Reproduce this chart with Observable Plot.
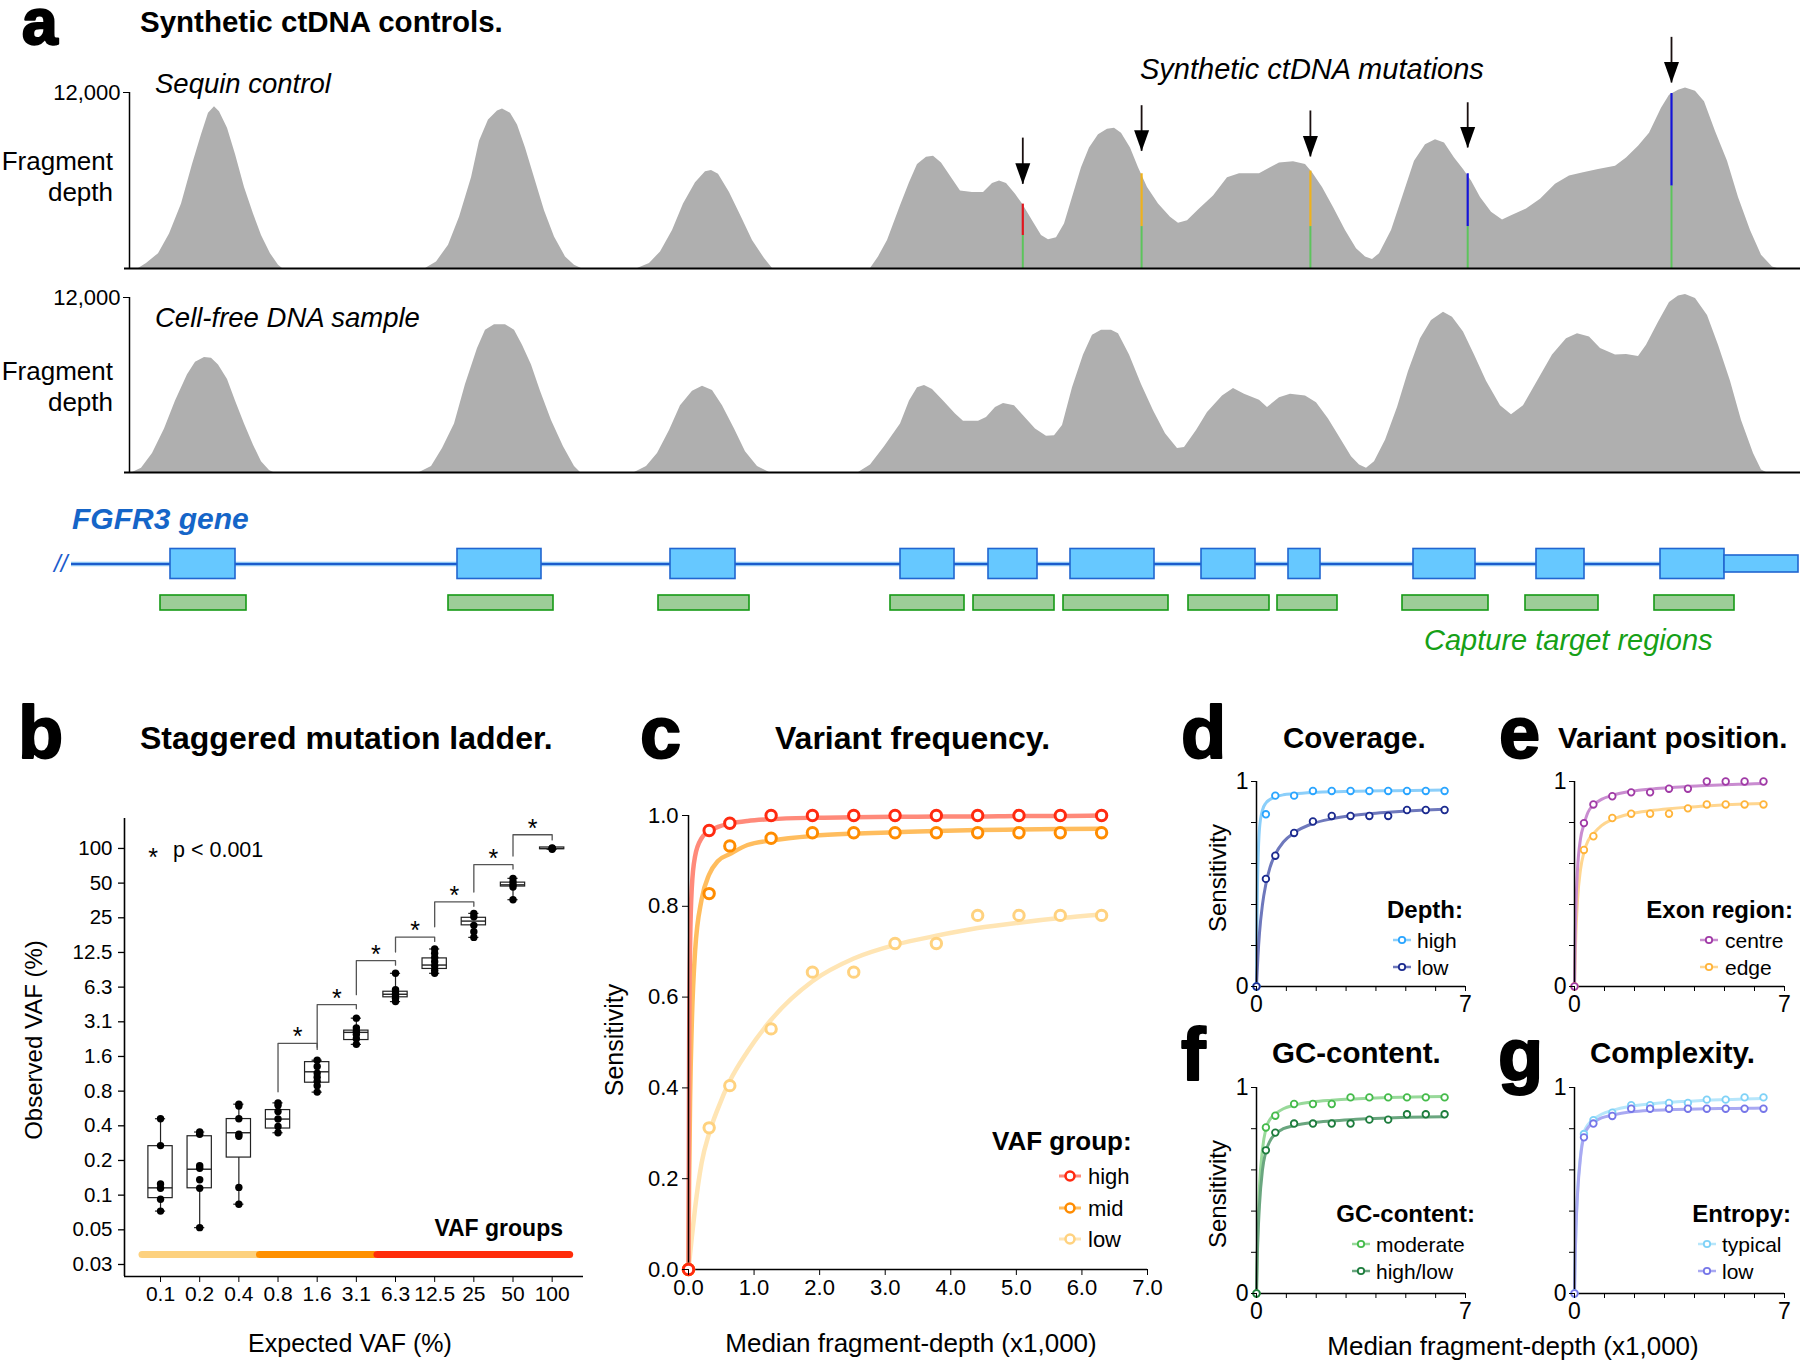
<!DOCTYPE html>
<html>
<head>
<meta charset="utf-8">
<script src="https://cdn.jsdelivr.net/npm/d3@7"></script>
<script src="https://cdn.jsdelivr.net/npm/@observablehq/plot@0.6"></script>
<style>
html,body{margin:0;padding:0;background:#fff;}
#fig{position:relative;width:1800px;height:1362px;overflow:hidden;background:#fff;}
</style>
</head>
<body>
<div id="fig"></div>
<script>
// ================= DATA =================
// Panel a: fragment depth along FGFR3 (position in bp, depth)
const sequinCoverage = [
 [90,0],[170,340],[290,1010],[400,2360],[520,4390],[630,7090],[720,9120],[790,10580],[850,11030],[900,10690],[980,9570],[1060,7770],[1150,5520],[1240,3710],[1320,2250],[1410,1010],[1490,230],[1530,0],
 [2960,0],[3070,450],[3190,1580],[3300,3490],[3420,6190],[3500,8670],[3590,10130],[3680,10740],[3730,10870],[3810,10580],[3880,9790],[3960,8220],[4050,6190],[4150,3940],[4250,2140],[4360,790],[4450,230],[4520,0],
 [5080,0],[5200,340],[5310,1130],[5430,2590],[5540,4390],[5660,5850],[5760,6600],[5820,6690],[5890,6420],[6000,5180],[6120,3490],[6230,1910],[6350,680],[6430,0],
 [7410,0],[7490,790],[7580,1910],
 [7710,4280],[7800,5850],[7880,7090],[7970,7590],[8040,7650],[8120,7200],[8230,6080],[8310,5290],[8430,5180],[8540,5180],
 [8630,5790],[8700,5970],[8770,5790],[8860,5060],[8930,4390],[9030,3260],[9120,2250],[9190,1960],[9270,2090],[9350,3040],
 [9430,4840],[9520,6870],[9600,8220],[9690,9120],[9780,9500],[9850,9570],[9920,9230],[10010,8220],[10090,6870],[10180,5520],
 [10290,4390],[10410,3490],[10490,3080],[10580,3260],[10700,4050],[10840,4950],[10980,6190],[11100,6460],[11300,6460],[11410,6870],
 [11500,7200],[11640,7270],[11760,7090],[11830,6530],[11930,5520],[12040,4160],[12160,2590],[12270,1350],[12360,790],[12430,610],
 [12500,1010],[12620,2590],[12730,4840],[12850,7320],[12960,8440],[13060,8780],[13150,8550],[13250,7540],[13340,6750],[13420,5970],
 [13510,4840],[13620,3830],[13730,3310],[13820,3600],[13970,4050],[14110,4730],[14260,5740],[14400,6300],[14540,6530],[14690,6750],
 [14860,6980],[14970,7540],[15090,8330],[15200,9230],[15320,10920],[15400,11820],[15490,12160],[15560,12310],[15660,12090],[15750,11370],
 [15860,9340],[15980,7320],[16090,4840],[16210,2590],[16320,900],[16430,110],[16480,0]
];
const cfdnaCoverage = [
 [30,0],[120,290],[230,1310],[350,2990],[460,4910],[580,6710],[660,7560],[750,7880],[820,7830],[890,7380],[980,6370],[1060,4910],[1150,3330],[1240,1870],[1320,740],[1400,140],[1440,0],
 [2900,0],[3020,410],[3130,1640],[3250,3330],[3360,6030],[3480,8510],[3560,9750],[3650,10130],[3760,10130],[3850,9750],[3930,8730],[4020,7380],[4110,5580],[4220,3560],[4340,1760],[4450,410],[4510,0],
 [5050,0],[5170,410],[5280,1310],[5400,2880],[5510,4570],[5630,5580],[5730,5920],[5830,5630],[5930,4570],[6050,2990],[6160,1420],[6280,410],[6400,0],
 [7290,0],[7410,520],[7550,1760],
 [7710,3330],[7800,4910],[7880,5810],[7950,5970],[8030,5700],[8140,4910],[8260,4010],[8340,3510],[8490,3510],[8570,3780],
 [8660,4460],[8740,4730],[8850,4570],[8940,3890],[9060,2990],[9170,2480],[9250,2520],[9330,3220],[9430,5810],[9540,8060],
 [9630,9410],[9720,9750],[9820,9750],[9890,9520],[10000,8060],[10120,6030],[10240,4230],[10360,2660],[10480,1640],[10550,1710],
 [10670,2880],[10780,4120],[10930,5250],[11040,5760],[11150,5360],[11300,4950],[11380,4460],[11500,5130],[11610,5360],[11760,5250],
 [11870,4790],[11990,3670],[12100,2430],[12220,1080],[12300,520],[12370,290],[12450,740],[12560,2210],[12680,4460],[12790,6930],
 [12910,9180],[13020,10420],[13140,10990],[13230,10650],[13340,9630],[13450,8060],[13570,6260],[13710,4570],[13820,3960],[13940,4570],
 [14080,6260],[14230,8060],[14370,9180],[14480,9520],[14600,9300],[14710,8510],[14860,8060],[14970,8100],[15090,7950],[15170,8730],
 [15290,10310],[15400,11660],[15490,12110],[15560,12200],[15660,11930],[15780,10760],[15890,8730],[16010,6260],[16120,3560],[16240,1310],
 [16320,180],[16370,0]
];
// synthetic ctDNA mutations in the sequin control
const mutPos = [8933, 10121, 11809, 13382, 15420];
const mutDepth = [4390, 6460, 6640, 6460, 11930];
const mutRefDepth = [2250, 2860, 2860, 2860, 5630];
const mutAltBase = ["T", "G", "G", "C", "C"];
const arrowTip = [5740, 7990, 7610, 8220, 12650];
const arrowTop = [8890, 11100, 10740, 11300, 15760];
// FGFR3 gene model and capture targets (bp)
const exonStart = [410, 3280, 5410, 7710, 8590, 9410, 10720, 11590, 12840, 14070, 15310];
const exonEnd   = [1060, 4120, 6060, 8250, 9080, 10250, 11260, 11910, 13460, 14550, 15950];
const utrStart = [15950];
const utrEnd = [16690];
const targetStart = [310, 3190, 5290, 7610, 8440, 9340, 10590, 11480, 12730, 13960, 15250];
const targetEnd   = [1170, 4240, 6200, 8350, 9250, 10390, 11400, 12080, 13590, 14690, 16050];
const geneLine = [-580, 16690];

// Panel b: staggered mutation ladder
const expectedVAF = ["0.1","0.2","0.4","0.8","1.6","3.1","6.3","12.5","25","50","100"];
const observedVAF = [
 [0.45,0.263,0.122,0.112,0.090,0.071],
 [0.345,0.33,0.176,0.167,0.133,0.112,0.051],
 [0.602,0.581,0.45,0.33,0.317,0.114,0.0815],
 [0.618,0.59,0.52,0.447,0.386,0.34],
 [1.45,1.28,1.12,1.03,0.95,0.87,0.766],
 [3.36,2.76,2.58,2.43,2.23,1.99],
 [8.24,5.95,5.7,5.46,5.23,5.01,4.68],
 [13.4,12.3,11.3,10.4,9.55,8.77,8.24],
 [27.3,25.5,21.5,18.9,16.9],
 [55,51.3,48.3,46.3,35.9],
 [101,100,98.3]
];
const boxQ1     = [0.092,0.112,0.207,0.37,0.925,2.17,5.1,8.99,21.5,46.7,98.5];
const boxMedian = [0.113,0.164,0.34,0.447,1.15,2.53,5.42,9.72,23.4,48.3,100];
const boxQ3     = [0.26,0.317,0.447,0.535,1.395,2.62,5.7,11.1,25.0,50.5,102];
const vafTicks = [100,50,25,12.5,6.25,3.125,1.5625,0.78125,0.390625,0.1953125,0.09765625,0.048828125,0.0244140625];
const vafTickLabels = ["100","50","25","12.5","6.3","3.1","1.6","0.8","0.4","0.2","0.1","0.05","0.03"];
const vafGroupNames = ["low","mid","high"];
const vafGroupFirst = [0,3,6];
const vafGroupLast = [2,5,10];
const bracketFrom = [3,4,5,6,7,8,9];
const bracketTop = [2.03,4.41,10.6,17.0,34.3,72.3,131.5];
const bracketLeftFoot = [0.77,1.88,5.37,12.6,20.9,41.8,85.8];
const bracketRightFoot = [1.8,4.05,9.7,15.6,31.5,66.3,118.6];

// Panels c-g: sensitivity vs median fragment depth (x1,000)
const depthK = [0,0.315,0.63,1.26,1.89,2.52,3.15,3.78,4.41,5.04,5.67,6.3];
const fitDepthK = [0,0.01,0.025,0.05,0.1,0.2,0.315,0.45,0.63,0.9,1.26,1.89,2.52,3.15,3.78,4.41,5.04,5.67,6.3];
const sensHighVAF = [0,0.967,0.983,1,1,1,1,1,1,1,1,1];
const sensMidVAF  = [0,0.828,0.933,0.95,0.962,0.962,0.962,0.962,0.962,0.962,0.962,0.962];
const sensLowVAF  = [0,0.312,0.405,0.53,0.655,0.655,0.718,0.718,0.78,0.78,0.78,0.78];
const fitHighVAF = [0,0.5,0.72,0.84,0.91,0.95,0.965,0.975,0.982,0.988,0.992,0.995,0.996,0.997,0.998,0.998,0.999,0.999,1.0];
const fitMidVAF  = [0,0.2,0.38,0.54,0.7,0.815,0.87,0.9,0.915,0.935,0.945,0.955,0.96,0.963,0.966,0.968,0.969,0.97,0.971];
const fitLowVAF  = [0,0.014,0.035,0.07,0.135,0.235,0.3,0.355,0.415,0.48,0.55,0.635,0.685,0.715,0.735,0.752,0.764,0.774,0.782];
const sensDepthHigh = [0,0.84,0.931,0.931,0.954,0.954,0.954,0.954,0.954,0.954,0.954,0.954];
const sensDepthLow  = [0,0.525,0.638,0.749,0.805,0.832,0.832,0.832,0.832,0.861,0.861,0.861];
const fitDepthHigh = [0,0.2,0.42,0.6,0.77,0.86,0.895,0.912,0.925,0.935,0.94,0.946,0.95,0.952,0.954,0.955,0.956,0.957,0.958];
const fitDepthLow  = [0,0.035,0.08,0.15,0.26,0.4,0.5,0.58,0.645,0.705,0.75,0.795,0.818,0.833,0.843,0.85,0.856,0.861,0.865];
const sensCentre = [0,0.797,0.888,0.928,0.947,0.947,0.965,0.965,1,1,1,1];
const sensEdge   = [0,0.666,0.733,0.822,0.843,0.843,0.843,0.869,0.888,0.888,0.888,0.888];
const fitCentre = [0,0.1,0.25,0.4,0.57,0.72,0.79,0.85,0.885,0.913,0.932,0.952,0.963,0.97,0.976,0.98,0.984,0.987,0.99];
const fitEdge   = [0,0.06,0.15,0.27,0.42,0.57,0.655,0.71,0.745,0.785,0.815,0.843,0.857,0.867,0.875,0.881,0.886,0.89,0.893];
const sensModerate = [0,0.806,0.863,0.92,0.92,0.92,0.952,0.952,0.952,0.952,0.952,0.952];
const sensHighLow  = [0,0.695,0.781,0.825,0.825,0.825,0.825,0.844,0.844,0.87,0.87,0.87];
const fitModerate = [0,0.08,0.2,0.33,0.52,0.7,0.8,0.845,0.872,0.897,0.914,0.93,0.938,0.944,0.948,0.951,0.953,0.955,0.956];
const fitHighLow  = [0,0.07,0.17,0.28,0.43,0.6,0.69,0.74,0.775,0.8,0.815,0.83,0.838,0.844,0.849,0.852,0.855,0.857,0.858];
const sensTypical    = [0,0.774,0.841,0.878,0.914,0.914,0.925,0.925,0.941,0.941,0.952,0.952];
const sensLowEntropy = [0,0.758,0.825,0.862,0.897,0.897,0.897,0.897,0.897,0.897,0.897,0.897];
const fitTypical    = [0,0.08,0.19,0.32,0.49,0.67,0.78,0.82,0.845,0.87,0.889,0.909,0.92,0.928,0.933,0.938,0.941,0.944,0.946];
const fitLowEntropy = [0,0.08,0.19,0.32,0.48,0.66,0.765,0.805,0.83,0.852,0.866,0.882,0.889,0.892,0.895,0.897,0.898,0.899,0.9];

// ================= RENDER =================
const FONT = "'Liberation Sans', Arial, Helvetica, sans-serif";
const fig = document.getElementById("fig");
const baseStyle = {background: "transparent", overflow: "visible", fontFamily: FONT, color: "#000"};
function mount(svg, left, top) {
  svg.style.position = "absolute";
  svg.style.left = left + "px";
  svg.style.top = top + "px";
  svg.style.maxWidth = "none";
  fig.appendChild(svg);
  return svg;
}

// ---- Panel a: coverage tracks ----
const baseColor = {A: "#5cc45c", C: "#1414d8", G: "#efb21c", T: "#e0161e"};
const arrowHead = {draw(ctx) { ctx.moveTo(-7.5, -21); ctx.lineTo(7.5, -21); ctx.lineTo(0, 0); ctx.closePath(); }};
const X_DOMAIN = [0, 16690];

function coverageTrack(cov, top, height, mTop, mBottom, withMutations) {
  const rows = cov.map(([pos, depth]) => ({pos, depth}));
  const marks = [Plot.areaY(rows, {x: "pos", y: "depth", fill: "#afafaf"})];
  if (withMutations) {
    const muts = mutPos.map((pos, i) => ({pos, total: mutDepth[i], ref: mutRefDepth[i], alt: mutAltBase[i], tip: arrowTip[i], top: arrowTop[i]}));
    marks.push(
      Plot.ruleX(muts, {x: "pos", y1: 0, y2: "ref", stroke: baseColor.A, strokeWidth: 2}),
      Plot.ruleX(muts, {x: "pos", y1: "ref", y2: "total", stroke: d => baseColor[d.alt], strokeWidth: 2.2}),
      Plot.ruleX(muts, {x: "pos", y1: "tip", y2: "top", stroke: "#1a1010", strokeWidth: 1.8}),
      Plot.dot(muts, {x: "pos", y: "tip", symbol: arrowHead, fill: "#000", stroke: "none", r: 4})
    );
  }
  marks.push(
    Plot.ruleY([0], {x1: -50, x2: 16710, stroke: "#000", strokeWidth: 2}),
    Plot.ruleX([0], {y1: 0, y2: 12000, stroke: "#000", strokeWidth: 1.5}),
    Plot.axisY({ticks: [12000], tickFormat: d3.format(","), tickSize: 6, tickPadding: 3, fontSize: 22, label: null})
  );
  return mount(Plot.plot({
    width: 1800, height, marginLeft: 129, marginRight: 2, marginTop: mTop, marginBottom: mBottom,
    x: {domain: X_DOMAIN, axis: null},
    y: {domain: [0, 12000]},
    style: baseStyle,
    marks
  }), 0, top);
}
coverageTrack(sequinCoverage, 0, 280, 92, 12, true);
coverageTrack(cfdnaCoverage, 280, 200, 17, 8, false);

// ---- gene track ----
{
  const exons = exonStart.map((s, i) => ({start: s, end: exonEnd[i]}));
  const utrs = utrStart.map((s, i) => ({start: s, end: utrEnd[i]}));
  const targets = targetStart.map((s, i) => ({start: s, end: targetEnd[i]}));
  mount(Plot.plot({
    width: 1800, height: 160, marginLeft: 129, marginRight: 2, marginTop: 63.5, marginBottom: 18.5,
    x: {domain: X_DOMAIN, axis: null},
    y: {domain: ["gene", "capture"], padding: 0, axis: null},
    style: baseStyle,
    marks: [
      Plot.ruleY(["gene"], {x1: geneLine[0], x2: geneLine[1], stroke: "#8cc4f2", strokeWidth: 4.5}),
      Plot.ruleY(["gene"], {x1: geneLine[0], x2: geneLine[1], stroke: "#1c5ccc", strokeWidth: 2}),
      Plot.barX(exons, {x1: "start", x2: "end", y: () => "gene", fill: "#66c8ff", stroke: "#2166d0", strokeWidth: 1.6, insetTop: 4.5, insetBottom: 4.5}),
      Plot.barX(utrs, {x1: "start", x2: "end", y: () => "gene", fill: "#66c8ff", stroke: "#2166d0", strokeWidth: 1.6, insetTop: 11, insetBottom: 11}),
      Plot.barX(targets, {x1: "start", x2: "end", y: () => "capture", fill: "#9dcd98", stroke: "#169a16", strokeWidth: 1.6, insetTop: 12, insetBottom: 12})
    ]
  }), 0, 480);
}

// ---- Panel b ----
{
  const idx = d3.range(expectedVAF.length);
  const boxes = idx.map(i => ({i, q1: boxQ1[i], med: boxMedian[i], q3: boxQ3[i], lo: d3.min(observedVAF[i]), hi: d3.max(observedVAF[i])}));
  const pts = observedVAF.flatMap((vals, i) => vals.map(v => ({i, v})));
  const groups = vafGroupNames.map((name, k) => ({name, first: vafGroupFirst[k], last: vafGroupLast[k]}));
  const groupColor = {low: "#fdd17e", mid: "#ff9000", high: "#ff2c0a"};
  const brackets = bracketFrom.map((f, k) => ({k, from: f, top: bracketTop[k], lf: bracketLeftFoot[k], rf: bracketRightFoot[k]}));
  const bracketPath = brackets.flatMap(b => [
    {k: b.k, x: b.from, y: b.lf}, {k: b.k, x: b.from, y: b.top}, {k: b.k, x: b.from + 1, y: b.top}, {k: b.k, x: b.from + 1, y: b.rf}
  ]);
  const yTicks = vafTicks.map((v, i) => ({v, label: vafTickLabels[i]}));
  const BW = 0.31, CAP = 0.13, X0 = -0.92, TICK = 6 / 39.15;
  const caps = boxes.flatMap(b => [{i: b.i, v: b.lo}, {i: b.i, v: b.hi}]);
  mount(Plot.plot({
    width: 600, height: 672, marginLeft: 124, marginRight: 17, marginTop: 128, marginBottom: 86,
    x: {type: "linear", domain: [X0, 10.8]},
    y: {type: "log", domain: [0.0192, 182], axis: null},
    style: baseStyle,
    marks: [
      Plot.ruleY(groups, {x1: d => d.first - 0.46, x2: d => d.last + 0.46, y: () => 0.0298, stroke: d => groupColor[d.name], strokeWidth: 7, strokeLinecap: "round"}),
      Plot.line(bracketPath, {x: "x", y: "y", z: "k", stroke: "#555", strokeWidth: 1.3}),
      Plot.text(brackets, {x: d => d.from + 0.5, y: "top", text: () => "*", fontSize: 25, dy: -6, fill: "#000"}),
      Plot.ruleX(boxes, {x: "i", y1: "lo", y2: "hi", stroke: "#222", strokeWidth: 1.2}),
      Plot.ruleY(caps, {x1: d => d.i - CAP, x2: d => d.i + CAP, y: "v", stroke: "#222", strokeWidth: 1.2}),
      Plot.rect(boxes, {x1: d => d.i - BW, x2: d => d.i + BW, y1: "q1", y2: "q3", fill: "#fff", stroke: "#222", strokeWidth: 1.2}),
      Plot.ruleY(boxes, {x1: d => d.i - BW, x2: d => d.i + BW, y: "med", stroke: "#222", strokeWidth: 1.4}),
      Plot.dot(pts, {x: "i", y: "v", r: 3.7, fill: "#000"}),
      Plot.ruleX([X0], {stroke: "#000", strokeWidth: 1.6}),
      Plot.ruleY([0.0192], {stroke: "#000", strokeWidth: 1.6}),
      Plot.axisX({ticks: idx, tickFormat: i => expectedVAF[i], tickSize: 6, tickPadding: 4, fontSize: 21, label: null}),
      // y axis: ticks + labels (explicit, so every label is shown)
      Plot.ruleY(yTicks, {y: "v", x1: X0 - TICK, x2: X0, stroke: "#000", strokeWidth: 1.3}),
      Plot.text(yTicks, {y: "v", x: X0, text: "label", textAnchor: "end", dx: -12, fontSize: 20.5, fill: "#000"})
    ]
  }), 0, 690);
}

// ---- Panel c ----
const cSeries = [
  {name: "low",  sens: sensLowVAF,  fit: fitLowVAF,  dot: "#ffd27f", line: "#ffe5b4"},
  {name: "mid",  sens: sensMidVAF,  fit: fitMidVAF,  dot: "#ff8c00", line: "#ffbd5e"},
  {name: "high", sens: sensHighVAF, fit: fitHighVAF, dot: "#ff2a10", line: "#ff8a7a"}
];
function seriesRows(series) {
  const fits = series.flatMap(s => fitDepthK.map((d, i) => ({g: s.name, d, v: s.fit[i], c: s.line})));
  const pts = series.flatMap(s => depthK.map((d, i) => ({g: s.name, d, v: s.sens[i], c: s.dot})));
  return {fits, pts};
}
{
  const {fits, pts} = seriesRows(cSeries);
  mount(Plot.plot({
    width: 590, height: 672, marginLeft: 98, marginRight: 33, marginTop: 125, marginBottom: 93,
    x: {domain: [0, 7]}, y: {domain: [0, 1]},
    style: baseStyle,
    marks: [
      Plot.line(fits, {x: "d", y: "v", z: "g", stroke: "c", strokeWidth: 4.5, curve: "monotone-x"}),
      Plot.ruleX([0], {stroke: "#000", strokeWidth: 1.5}),
      Plot.ruleY([0], {stroke: "#000", strokeWidth: 1.5}),
      Plot.dot(pts, {x: "d", y: "v", stroke: "c", fill: "#fff", r: 5.2, strokeWidth: 3}),
      Plot.axisX({ticks: d3.range(8), tickFormat: d3.format(".1f"), tickSize: 6, tickPadding: 4, fontSize: 22, label: null}),
      Plot.axisY({ticks: [0, 0.2, 0.4, 0.6, 0.8, 1], tickFormat: d3.format(".1f"), tickSize: 6, tickPadding: 4, fontSize: 22, label: null})
    ]
  }), 590, 690);
}

// ---- Panels d-g ----
function sensPanel(series, left, top, mLeft, mRight, mTop, mBottom) {
  const {fits, pts} = seriesRows(series);
  return mount(Plot.plot({
    width: 300, height: 340, marginLeft: mLeft, marginRight: mRight, marginTop: mTop, marginBottom: mBottom,
    x: {domain: [0, 7]}, y: {domain: [0, 1]},
    style: baseStyle,
    marks: [
      Plot.line(fits, {x: "d", y: "v", z: "g", stroke: "c", strokeWidth: 3, curve: "monotone-x"}),
      Plot.ruleX([0], {stroke: "#000", strokeWidth: 1.5}),
      Plot.ruleY([0], {stroke: "#000", strokeWidth: 1.5}),
      Plot.dot(pts, {x: "d", y: "v", stroke: "c", fill: "#fff", r: 3.3, strokeWidth: 1.8}),
      Plot.axisX({ticks: d3.range(8), tickFormat: d => (d === 0 || d === 7) ? String(d) : "", tickSize: 5, tickPadding: 4, fontSize: 23, label: null}),
      Plot.axisY({ticks: [0, 0.2, 0.4, 0.6, 0.8, 1], tickFormat: d => (d === 0 || d === 1) ? String(d) : "", tickSize: 5, tickPadding: 3, fontSize: 23, label: null})
    ]
  }), left, top);
}
const dSeries = [
  {name: "high", sens: sensDepthHigh, fit: fitDepthHigh, dot: "#2aa5ff", line: "#8ccffa"},
  {name: "low",  sens: sensDepthLow,  fit: fitDepthLow,  dot: "#1b2a8f", line: "#6e78bc"}
];
const eSeries = [
  {name: "edge",   sens: sensEdge,   fit: fitEdge,   dot: "#ffb43a", line: "#ffd690"},
  {name: "centre", sens: sensCentre, fit: fitCentre, dot: "#a03aa6", line: "#c98cd0"}
];
const fSeries = [
  {name: "moderate", sens: sensModerate, fit: fitModerate, dot: "#45bb4b", line: "#98d99a"},
  {name: "high/low", sens: sensHighLow,  fit: fitHighLow,  dot: "#1c7c3c", line: "#6aa67f"}
];
const gSeries = [
  {name: "typical", sens: sensTypical,    fit: fitTypical,    dot: "#7fd2f7", line: "#b6e6fb"},
  {name: "low",     sens: sensLowEntropy, fit: fitLowEntropy, dot: "#7676e8", line: "#a9a9f2"}
];
sensPanel(dSeries, 1180, 690, 76, 15, 91, 44);
sensPanel(eSeries, 1500, 690, 74, 16, 91, 44);
sensPanel(fSeries, 1180, 1000, 76, 15, 87, 47);
sensPanel(gSeries, 1500, 1000, 74, 16, 87, 47);

// ---- text overlay ----
const ov = d3.select(fig).append("svg")
  .attr("width", 1800).attr("height", 1362)
  .style("position", "absolute").style("left", "0px").style("top", "0px")
  .attr("font-family", FONT);
function T(str, x, y, o = {}) {
  const t = ov.append("text").attr("x", x).attr("y", y).text(str)
    .attr("font-size", o.size || 22)
    .attr("font-weight", o.weight || "normal")
    .attr("font-style", o.italic ? "italic" : "normal")
    .attr("text-anchor", o.anchor || "start")
    .attr("fill", o.fill || "#000");
  if (o.central) t.attr("dominant-baseline", "central");
  if (o.rotate) t.attr("transform", `rotate(${o.rotate} ${x} ${y})`);
  if (o.heavy) t.attr("stroke", o.fill || "#000").attr("stroke-width", o.heavy).attr("stroke-linejoin", "round");
  return t;
}
function legendItem(x1, x2, y, s, tx, size, r, lw) {
  ov.append("line").attr("x1", x1).attr("x2", x2).attr("y1", y).attr("y2", y).attr("stroke", s.line).attr("stroke-width", lw);
  ov.append("circle").attr("cx", (x1 + x2) / 2).attr("cy", y).attr("r", r).attr("fill", "#fff").attr("stroke", s.dot).attr("stroke-width", r > 4 ? 2.6 : 1.8);
  T(s.name, tx, y, {size, central: true});
}

// panel letters
const L = {size: 74, weight: "bold", heavy: 2};
T("a", 22, 44, {size: 64, weight: "bold", heavy: 2.4});
T("b", 18, 758, L); T("c", 640, 758, L);
T("d", 1181, 758, L); T("e", 1499, 758, L); T("f", 1181, 1080, L); T("g", 1498, 1080, L);

// titles
T("Synthetic ctDNA controls.", 140, 32, {size: 29.5, weight: "bold"});
T("Staggered mutation ladder.", 140, 749, {size: 32, weight: "bold"});
T("Variant frequency.", 775, 749, {size: 32, weight: "bold"});
T("Coverage.", 1283, 748, {size: 29.5, weight: "bold"});
T("Variant position.", 1558, 748, {size: 29.5, weight: "bold"});
T("GC-content.", 1272, 1063, {size: 29.5, weight: "bold"});
T("Complexity.", 1590, 1063, {size: 29.5, weight: "bold"});

// panel a labels
T("Sequin control", 155, 93, {size: 27.5, italic: true});
T("Cell-free DNA sample", 155, 327, {size: 27.5, italic: true});
T("Synthetic ctDNA mutations", 1140, 79, {size: 29, italic: true});
T("Fragment", 113, 161, {size: 26, anchor: "end", central: true});
T("depth", 113, 192, {size: 26, anchor: "end", central: true});
T("Fragment", 113, 371, {size: 26, anchor: "end", central: true});
T("depth", 113, 402, {size: 26, anchor: "end", central: true});
T("FGFR3 gene", 72, 518, {size: 30, weight: "bold", italic: true, fill: "#1565c8", central: true});
T("//", 54, 563, {size: 24, italic: true, fill: "#1c5ccc", central: true});
T("Capture target regions", 1424, 640, {size: 29, italic: true, fill: "#16a016", central: true});

// panel b labels
T("Observed VAF (%)", 33, 1040, {size: 24, anchor: "middle", central: true, rotate: -90});
T("Expected VAF (%)", 350, 1343, {size: 25, anchor: "middle", central: true});
T("*", 153, 857, {size: 25, anchor: "middle", central: true});
T("p < 0.001", 173, 850, {size: 21.5, central: true});
T("VAF groups", 563, 1228, {size: 23, weight: "bold", anchor: "end", central: true});

// panel c labels + legend
T("Sensitivity", 614, 1040, {size: 25, anchor: "middle", central: true, rotate: -90});
T("Median fragment-depth (x1,000)", 911, 1343, {size: 26, anchor: "middle", central: true});
T("VAF group:", 992, 1141, {size: 26, weight: "bold", central: true});
[cSeries[2], cSeries[1], cSeries[0]].forEach((s, k) => legendItem(1059, 1081, [1176, 1208, 1239][k], s, 1088, 22, 4.5, 3));

// panels d-g labels + legends
T("Sensitivity", 1217, 878, {size: 24, anchor: "middle", central: true, rotate: -90});
T("Sensitivity", 1217, 1194, {size: 24, anchor: "middle", central: true, rotate: -90});
T("Median fragment-depth (x1,000)", 1513, 1346, {size: 26, anchor: "middle", central: true});
T("Depth:", 1463, 909, {size: 24, weight: "bold", anchor: "end", central: true});
dSeries.forEach((s, k) => legendItem(1393, 1411, [940, 967][k], s, 1417, 21, 3.2, 2.5));
T("Exon region:", 1793, 909, {size: 24, weight: "bold", anchor: "end", central: true});
[eSeries[1], eSeries[0]].forEach((s, k) => legendItem(1700, 1718, [940, 967][k], s, 1725, 21, 3.2, 2.5));
T("GC-content:", 1475, 1213, {size: 24, weight: "bold", anchor: "end", central: true});
fSeries.forEach((s, k) => legendItem(1352, 1370, [1244, 1271][k], s, 1376, 21, 3.2, 2.5));
T("Entropy:", 1791, 1213, {size: 24, weight: "bold", anchor: "end", central: true});
gSeries.forEach((s, k) => legendItem(1698, 1716, [1244, 1271][k], s, 1722, 21, 3.2, 2.5));
</script>
</body>
</html>
